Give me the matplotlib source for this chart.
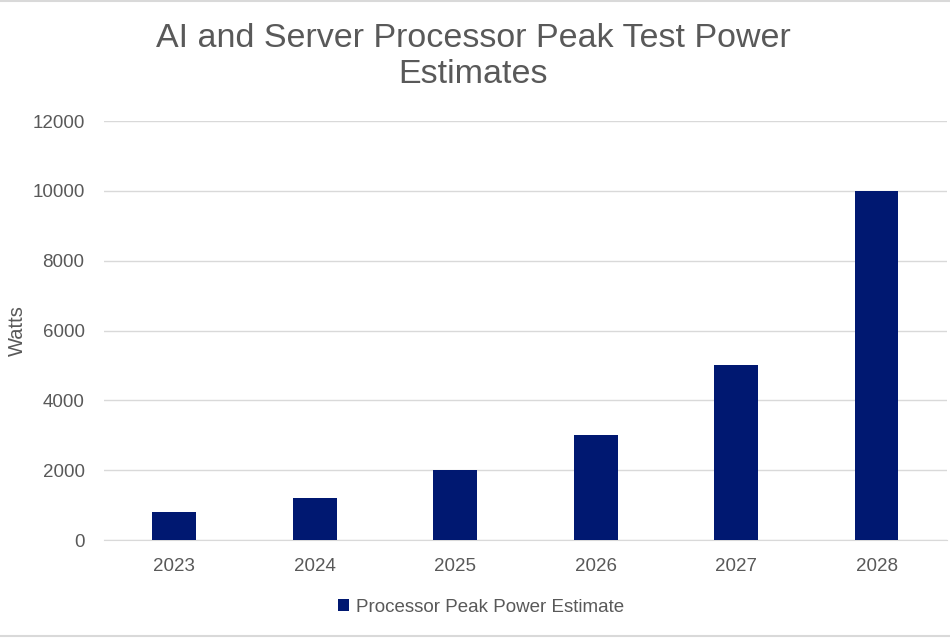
from matplotlib import pyplot as plt
from matplotlib.lines import Line2D
import numpy as np

years = ['2023', '2024', '2025', '2026', '2027', '2028']
peak_watts = [800, 1200, 2000, 3000, 5000, 10000]
series_name = 'Processor Peak Power Estimate'
y_ticks = [0, 2000, 4000, 6000, 8000, 10000, 12000]

plt.rcParams['font.family'] = ['Liberation Sans', 'DejaVu Sans']
gray_text = '#595959'
bar_color = '#001871'

fig = plt.figure(figsize=(9.5, 6.38), dpi=100)
ax = fig.add_axes([0.1095, 0.1536, 0.8873, 0.6567])

x = np.arange(len(years))
ax.bar(x, peak_watts, width=0.31, color=bar_color, label=series_name, zorder=3)

ax.set_xlim(-0.5, len(years) - 0.5)
ax.set_ylim(0, 12000)
ax.set_xticks(x)
ax.set_xticklabels(years)
ax.set_yticks(y_ticks)
ax.tick_params(axis='both', length=0, labelsize=13.5, colors=gray_text)
ax.tick_params(axis='x', pad=13)
ax.tick_params(axis='y', pad=14)
ax.grid(axis='y', color='#d9d9d9', linewidth=1, zorder=0)
for side in ['top', 'right', 'left']:
    ax.spines[side].set_visible(False)
ax.spines['bottom'].set_color('#d9d9d9')

ax.set_ylabel('Watts', fontsize=14.5, color=gray_text)
ax.yaxis.set_label_coords(-0.092, 0.5)

fig.text(0.498, 0.912, 'AI and Server Processor Peak Test Power\nEstimates',
         ha='center', va='center', fontsize=24.5, color=gray_text, linespacing=1.22)

ax.legend(loc='center', bbox_to_anchor=(0.447, -0.16), frameon=False,
          fontsize=13.5, labelcolor=gray_text, handlelength=0.6, handleheight=0.6,
          handletextpad=0.35)

# thin frame lines at the top and bottom of the picture
fig.add_artist(Line2D([0, 1], [0.999, 0.999], color='#d9d9d9', linewidth=1.5))
fig.add_artist(Line2D([0, 1], [0.003, 0.003], color='#d9d9d9', linewidth=1.5))

plt.savefig('out.png', dpi=100)
